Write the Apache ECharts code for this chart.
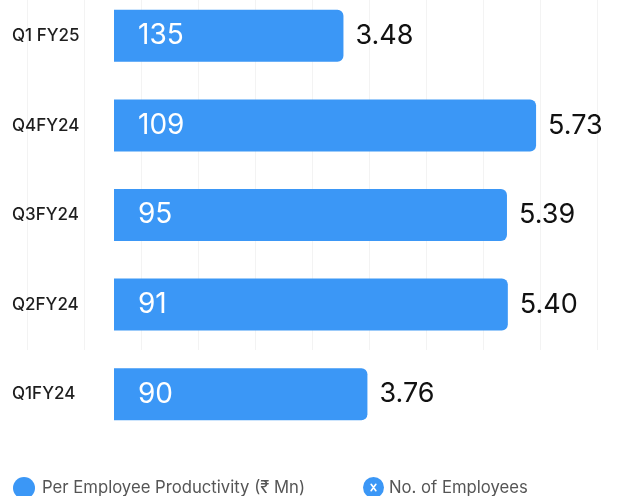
<!DOCTYPE html>
<html><head><meta charset="utf-8">
<script src="https://cdn.jsdelivr.net/npm/echarts@6/dist/echarts.min.js"></script>
<style>html,body{margin:0;padding:0;background:#fff}#c{width:625px;height:496px}</style>
</head><body><div id="c"></div>
<script>
var quarters = ['Q1 FY25', 'Q4FY24', 'Q3FY24', 'Q2FY24', 'Q1FY24'];
var productivity = [3.48, 5.73, 5.39, 5.40, 3.76];
var employees = [135, 109, 95, 91, 90];
var seriesNames = ['Per Employee Productivity (₹ Mn)', 'No. of Employees'];

var FONT = 'Inter, "Noto Sans", "DejaVu Sans", sans-serif';
var BLUE = '#3b97f6';
var xIcon = 'image://data:image/svg+xml;utf8,' + encodeURIComponent(
  '<svg xmlns="http://www.w3.org/2000/svg" width="40" height="40" viewBox="0 0 40 40">' +
  '<circle cx="20" cy="20" r="20" fill="' + BLUE + '"/>' +
  '<path d="M15.5 14 L24.5 26 M24.5 14 L15.5 26" stroke="#fff" stroke-width="3.2" stroke-linecap="round"/></svg>');

var chart = echarts.init(document.getElementById('c'), null, {renderer: 'canvas'});
chart.setOption({
  animation: false,
  backgroundColor: '#fff',
  grid: [
    {left: 114, right: 23, top: -9, height: 448, outerBoundsMode: 'none', containLabel: false},
    {left: 27, width: 570, top: 0, height: 350, outerBoundsMode: 'none'}
  ],
  xAxis: [
    {type: 'value', gridIndex: 0, min: 0.8, max: 6.5, show: false, splitLine: {show: false}},
    {type: 'value', gridIndex: 1, min: 0, max: 10, interval: 1,
     axisLine: {show: false}, axisTick: {show: false}, axisLabel: {show: false},
     splitLine: {show: true, lineStyle: {color: '#f3f3f3', width: 1}}}
  ],
  yAxis: [
    {type: 'category', gridIndex: 0, data: quarters, inverse: true,
     axisLine: {show: false}, axisTick: {show: false}, splitLine: {show: false},
     axisLabel: {align: 'left', margin: 102, fontSize: 17, color: '#1e1e1e', fontWeight: 500, fontFamily: FONT}},
    {type: 'value', gridIndex: 1, min: 0, max: 6, interval: 1, show: false,
     splitLine: {show: false}}
  ],
  legend: [
    {data: [{name: seriesNames[0], icon: 'circle'}], left: 8, top: 472, itemWidth: 22, itemHeight: 22,
     itemGap: 0, textStyle: {fontSize: 16.7, color: '#555', fontFamily: FONT, padding: [0, 0, 0, 2]}, selectedMode: false},
    {data: [{name: seriesNames[1], icon: xIcon}], left: 358, top: 472, itemWidth: 21, itemHeight: 21,
     textStyle: {fontSize: 16.7, color: '#555', fontFamily: FONT}, selectedMode: false}
  ],
  series: [
    {name: seriesNames[0], type: 'bar', xAxisIndex: 0, yAxisIndex: 0, data: productivity,
     barWidth: 52, itemStyle: {color: BLUE, borderRadius: [0, 6, 6, 0]},
     label: {show: true, position: 'right', distance: 12, fontSize: 27, color: '#111', fontFamily: FONT,
       formatter: function (p) { return productivity[p.dataIndex].toFixed(2); }}},
    {name: seriesNames[1], type: 'bar', xAxisIndex: 0, yAxisIndex: 0, data: productivity,
     barWidth: 52, barGap: '-100%', itemStyle: {color: 'rgba(0,0,0,0)'}, color: BLUE,
     label: {show: true, position: 'insideLeft', distance: 24, fontSize: 28, color: '#fff', fontFamily: FONT,
       formatter: function (p) { return String(employees[p.dataIndex]); }}}
  ]
});
</script></body></html>
